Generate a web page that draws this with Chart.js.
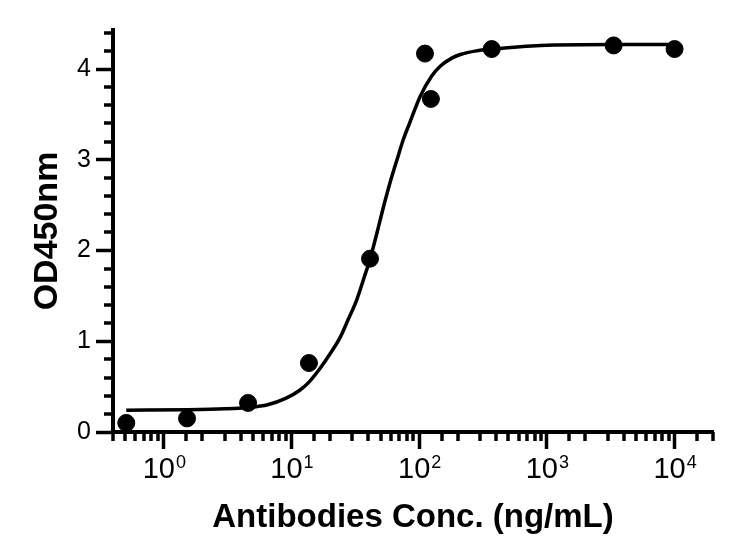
<!DOCTYPE html>
<html>
<head>
<meta charset="utf-8">
<script src="https://cdn.jsdelivr.net/npm/chart.js@4"></script>
<style>
  html, body { margin: 0; padding: 0; background: #fff; }
  #chart { display: block; }
</style>
</head>
<body>
<canvas id="chart" width="732" height="545"></canvas>
<script>
// measured points (ng/mL vs OD450)
const concentrations = [0.508, 1.52, 4.57, 13.7, 41.2, 111, 123.5, 370, 3333, 10000];
const odValues = [0.10, 0.15, 0.32, 0.76, 1.91, 4.17, 3.67, 4.22, 4.26, 4.22];

// fitted curve
const fitX = [0.508, 1.5, 3, 4.57, 6.5, 9, 11.6, 13.7, 16.7, 20, 24, 28, 32.5, 37, 41.3, 47, 52.5, 60, 67, 75, 85, 102, 125, 146, 180, 210, 280, 373, 894, 3400, 10000];
const fitY = [0.24, 0.245, 0.255, 0.27, 0.30, 0.37, 0.46, 0.55, 0.70, 0.86, 1.04, 1.25, 1.46, 1.70, 1.91, 2.21, 2.48, 2.78, 3.00, 3.22, 3.42, 3.70, 3.92, 4.03, 4.12, 4.16, 4.20, 4.22, 4.26, 4.27, 4.27];

// decade labels: base and exponent
const xTickBase = ['10', '10', '10', '10', '10'];
const xTickExp = ['0', '1', '2', '3', '4'];
const yTickLabels = ['0', '1', '2', '3', '4'];

const FONT = 'Liberation Sans, Arial, sans-serif';
const isDecade = v => Math.abs(Math.log10(v) - Math.round(Math.log10(v))) < 1e-6;
const isWhole = v => Math.abs(v - Math.round(v)) < 1e-6;

// short minor ticks + the 10^n labels with a raised exponent
const axisExtras = {
  id: 'axisExtras',
  afterDraw(chart) {
    const ctx = chart.ctx;
    const xs = chart.scales.x, ys = chart.scales.y;
    ctx.save();
    ctx.strokeStyle = '#000';
    ctx.lineWidth = 3.5;
    ys.ticks.forEach(t => {
      if (isWhole(t.value)) return;
      const py = Math.round(ys.getPixelForValue(t.value));
      ctx.beginPath();
      ctx.moveTo(ys.right - 9, py);
      ctx.lineTo(ys.right, py);
      ctx.stroke();
    });
    xs.ticks.forEach(t => {
      if (isDecade(t.value)) return;
      const px = Math.round(xs.getPixelForValue(t.value));
      ctx.beginPath();
      ctx.moveTo(px, xs.top);
      ctx.lineTo(px, xs.top + 9);
      ctx.stroke();
    });

    ctx.fillStyle = '#000';
    ctx.textBaseline = 'alphabetic';
    ctx.textAlign = 'left';
    xs.ticks.forEach(t => {
      if (!isDecade(t.value)) return;
      const i = Math.round(Math.log10(t.value));
      const px = xs.getPixelForValue(t.value);
      ctx.font = '29px ' + FONT;
      const w1 = ctx.measureText(xTickBase[i]).width;
      ctx.font = '18px ' + FONT;
      const w2 = ctx.measureText(xTickExp[i]).width;
      const x0 = px - (w1 + w2) / 2;
      const base = xs.top + 46;
      ctx.font = '29px ' + FONT;
      ctx.fillText(xTickBase[i], x0, base);
      ctx.font = '18px ' + FONT;
      ctx.fillText(xTickExp[i], x0 + w1 + 1, base - 10);
    });
    ctx.restore();
  }
};

const ctx = document.getElementById('chart').getContext('2d');
new Chart(ctx, {
  data: {
    datasets: [
      {
        type: 'scatter',
        data: concentrations.map((c, i) => ({ x: c, y: odValues[i] })),
        backgroundColor: '#000',
        borderColor: '#000',
        pointRadius: 8.5,
        pointHoverRadius: 8.5,
        clip: false
      },
      {
        type: 'line',
        data: fitX.map((c, i) => ({ x: c, y: fitY[i] })),
        borderColor: '#000',
        borderWidth: 3.5,
        pointRadius: 0,
        fill: false,
        cubicInterpolationMode: 'monotone'
      }
    ]
  },
  options: {
    responsive: false,
    devicePixelRatio: 1,
    animation: false,
    layout: { padding: { top: 30, right: 19, left: 0, bottom: 0 } },
    plugins: { legend: { display: false }, tooltip: { enabled: false } },
    scales: {
      x: {
        type: 'logarithmic',
        min: 0.4,
        max: 20000,
        afterFit(scale) { scale.height = 113; },
        border: { color: '#000', width: 4 },
        grid: {
          drawOnChartArea: false,
          tickLength: 17,
          tickWidth: 3.5,
          tickColor: c => (c.tick && isDecade(c.tick.value)) ? '#000' : 'rgba(0,0,0,0)'
        },
        ticks: {
          autoSkip: false,
          maxRotation: 0,
          callback: () => ''
        },
        title: {
          display: true,
          text: 'Antibodies Conc. (ng/mL)',
          color: '#000',
          font: { family: FONT, size: 33, weight: 'bold' },
          padding: { top: 0, bottom: 7 }
        }
      },
      y: {
        type: 'linear',
        min: 0,
        max: 4.43,
        afterFit(scale) { scale.width = 113; },
        border: { color: '#000', width: 4 },
        grid: {
          drawOnChartArea: false,
          tickLength: 17,
          tickWidth: 3.5,
          tickColor: c => (c.tick && isWhole(c.tick.value)) ? '#000' : 'rgba(0,0,0,0)'
        },
        ticks: {
          stepSize: 0.2,
          includeBounds: false,
          autoSkip: false,
          padding: 5,
          color: '#000',
          font: { family: FONT, size: 25 },
          callback: v => isWhole(v) ? yTickLabels[Math.round(v)] : ''
        },
        title: {
          display: true,
          text: 'OD450nm',
          color: '#000',
          font: { family: FONT, size: 34, weight: 'bold' },
          padding: { top: 27, bottom: 0 }
        }
      }
    }
  },
  plugins: [axisExtras]
});
</script>
</body>
</html>
